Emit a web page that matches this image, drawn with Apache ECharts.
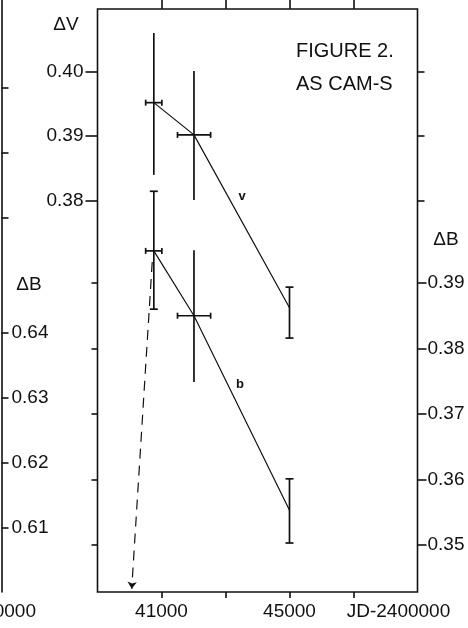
<!DOCTYPE html>
<html><head><meta charset="utf-8">
<script src="https://cdn.jsdelivr.net/npm/echarts@6/dist/echarts.min.js"></script>
<style>html,body{margin:0;padding:0;background:#fff}#c{width:468px;height:628px}</style>
</head><body><div id="c"></div>
<script>
// ---- data ----
const jd = [40760, 42015, 45000];
const jdLo = [40505, 41500, null];
const jdHi = [41011, 42535, null];
const dV = [0.3952, 0.3902, 0.3634];
const dVLo = [0.3840, 0.3801, 0.3587];
const dVHi = [0.4060, 0.4001, 0.3666];
const dB = [0.3949, 0.3850, 0.3553];
const dBLo = [0.3860, 0.3749, 0.3503];
const dBHi = [0.4040, 0.3950, 0.3601];
const arrowJD = [40710, 40069];
const arrowB = [0.3932, 0.3433];
// ---- ticks / labels ----
const xTicks = [41000, 43000, 45000, 47000];
const xLabelValues = [41000, 45000, 47000];
const xLabelTexts = ['41000', '45000', 'JD-2400000'];
const dVTicks = [0.38, 0.39, 0.40];
const dBTicks = [0.35, 0.36, 0.37, 0.38, 0.39];
const leftBTicks = [0.61, 0.62, 0.63, 0.64];
const leftVTicks = [0.38, 0.39, 0.40];
const titleLines = ['FIGURE 2.', 'AS CAM-S'];
const curveNames = ['v', 'b'];

const INK = '#111';
const FONT = "'Liberation Sans', Arial, sans-serif";
const vCapped = [false, false, true];
const bCapped = [true, false, true];

function errRender(yVals, yLo, yHi, capped) {
  return function (params, api) {
    const i = params.dataIndex;
    const st = { stroke: INK, lineWidth: 1.7 };
    const ch = [];
    const top = api.coord([jd[i], yHi[i]]);
    const bot = api.coord([jd[i], yLo[i]]);
    ch.push({ type: 'line', shape: { x1: top[0], y1: top[1], x2: bot[0], y2: bot[1] }, style: st });
    if (capped[i]) {
      [top, bot].forEach(p => ch.push({ type: 'line', shape: { x1: p[0] - 4, y1: p[1], x2: p[0] + 4, y2: p[1] }, style: st }));
    }
    if (jdLo[i] != null) {
      const l = api.coord([jdLo[i], yVals[i]]);
      const r = api.coord([jdHi[i], yVals[i]]);
      ch.push({ type: 'line', shape: { x1: l[0], y1: l[1], x2: r[0], y2: r[1] }, style: st });
      [l, r].forEach(p => ch.push({ type: 'line', shape: { x1: p[0], y1: p[1] - 3, x2: p[0], y2: p[1] + 3 }, style: st }));
    }
    return { type: 'group', children: ch };
  };
}

const lbl = { color: INK, fontFamily: FONT, fontSize: 19 };
const fmt2 = v => v.toFixed(2);
const tickStyle = { color: INK, width: 1.6 };

const chart = echarts.init(document.getElementById('c'), null, { renderer: 'canvas' });
chart.setOption({
  backgroundColor: '#fff',
  animation: false,
  grid: [
    { left: 97.5, top: 9, width: 320, height: 583, show: true, borderColor: INK, borderWidth: 1.6, backgroundColor: 'transparent', containLabel: false, outerBoundsMode: 'none' },
    { left: -200, top: -10, width: 201.5, height: 602, show: false, containLabel: false, outerBoundsMode: 'none' }
  ],
  title: {
    text: titleLines.join('\n'), left: 291, top: 30,
    textStyle: { color: INK, fontFamily: FONT, fontSize: 20, fontWeight: 'normal', lineHeight: 33 }
  },
  xAxis: [
    { gridIndex: 0, type: 'value', position: 'bottom', min: 39000, max: 49000,
      axisLine: { show: false, onZero: false }, splitLine: { show: false },
      axisTick: { show: true, length: 6, customValues: xTicks, lineStyle: tickStyle },
      axisLabel: { show: true, margin: 10, customValues: xLabelValues, ...lbl,
        formatter: v => { const k = xLabelValues.indexOf(v); const t = k >= 0 ? xLabelTexts[k] : '';
          return k === 2 ? '{jd|' + t + '}' : t; },
        rich: { jd: { ...lbl, padding: [0, 0, 0, 90] } } } },
    { gridIndex: 0, type: 'value', position: 'top', min: 39000, max: 49000,
      axisLine: { show: false, onZero: false }, splitLine: { show: false },
      axisTick: { show: true, length: 9, customValues: xTicks, lineStyle: tickStyle },
      axisLabel: { show: false } },
    { gridIndex: 1, type: 'value', min: 1, max: 2, show: false, axisLine: { onZero: false } }
  ],
  yAxis: [
    { gridIndex: 0, type: 'value', position: 'left', min: 0.31933, max: 0.40972,
      axisLine: { show: false, onZero: false }, splitLine: { show: false },
      axisTick: { show: true, length: 12, customValues: dVTicks, lineStyle: tickStyle },
      axisLabel: { show: true, margin: 14, customValues: dVTicks, formatter: fmt2, ...lbl } },
    { gridIndex: 0, type: 'value', position: 'left', min: 0.34282, max: 0.43183,
      axisLine: { show: false, onZero: false }, splitLine: { show: false },
      axisTick: { show: true, length: 6, customValues: dBTicks, lineStyle: tickStyle },
      axisLabel: { show: false } },
    { gridIndex: 0, type: 'value', position: 'right', min: 0.31933, max: 0.40972,
      axisLine: { show: false, onZero: false }, splitLine: { show: false },
      axisTick: { show: true, length: 7, customValues: dVTicks, lineStyle: tickStyle },
      axisLabel: { show: false } },
    { gridIndex: 0, type: 'value', position: 'right', min: 0.34282, max: 0.43183,
      axisLine: { show: false, onZero: false }, splitLine: { show: false },
      axisTick: { show: true, length: 9, customValues: dBTicks, lineStyle: tickStyle },
      axisLabel: { show: true, margin: 10, customValues: dBTicks, formatter: fmt2, ...lbl } },
    { gridIndex: 1, type: 'value', position: 'right', min: 0.60015, max: 0.69277,
      axisLine: { show: true, onZero: false, lineStyle: { color: INK, width: 1.6 } }, splitLine: { show: false },
      axisTick: { show: true, length: 7, customValues: leftBTicks, lineStyle: tickStyle },
      axisLabel: { show: true, margin: 10, customValues: leftBTicks, formatter: fmt2, ...lbl } },
    { gridIndex: 1, type: 'value', position: 'right', min: 0.32246, max: 0.41508,
      axisLine: { show: false, onZero: false }, splitLine: { show: false },
      axisTick: { show: true, length: 7, customValues: leftVTicks, lineStyle: tickStyle },
      axisLabel: { show: false } }
  ],
  series: [
    { type: 'line', xAxisIndex: 0, yAxisIndex: 0, data: jd.map((x, i) => [x, dV[i]]),
      symbol: 'none', lineStyle: { color: INK, width: 1.2 } },
    { type: 'line', xAxisIndex: 0, yAxisIndex: 3, data: jd.map((x, i) => [x, dB[i]]),
      symbol: 'none', lineStyle: { color: INK, width: 1.2 } },
    { type: 'custom', xAxisIndex: 0, yAxisIndex: 0, data: jd.map((x, i) => [x, dV[i]]),
      encode: { x: 0, y: 1 }, renderItem: errRender(dV, dVLo, dVHi, vCapped) },
    { type: 'custom', xAxisIndex: 0, yAxisIndex: 3, data: jd.map((x, i) => [x, dB[i]]),
      encode: { x: 0, y: 1 }, renderItem: errRender(dB, dBLo, dBHi, bCapped) },
    { type: 'lines', coordinateSystem: 'cartesian2d', xAxisIndex: 0, yAxisIndex: 3,
      symbol: ['none', 'arrow'], symbolSize: 7,
      lineStyle: { color: INK, width: 1.2, type: [10, 7], opacity: 1 },
      data: [{ coords: arrowJD.map((x, i) => [x, arrowB[i]]) }] }
  ],
  graphic: [
    { type: 'text', x: 66, y: 25, style: { text: 'ΔV', fill: INK, font: "19px 'Liberation Sans'", align: 'center', verticalAlign: 'middle' } },
    { type: 'text', x: 29, y: 285, style: { text: 'ΔB', fill: INK, font: "19px 'Liberation Sans'", align: 'center', verticalAlign: 'middle' } },
    { type: 'text', x: 446, y: 240, style: { text: 'ΔB', fill: INK, font: "19px 'Liberation Sans'", align: 'center', verticalAlign: 'middle' } },
    { type: 'text', x: 242, y: 196, style: { text: curveNames[0], fill: INK, font: "bold 13px 'Liberation Sans'", align: 'center', verticalAlign: 'middle' } },
    { type: 'text', x: 240, y: 384, style: { text: curveNames[1], fill: INK, font: "bold 13px 'Liberation Sans'", align: 'center', verticalAlign: 'middle' } },
    { type: 'text', x: 36, y: 612, style: { text: 'JD-2400000', fill: INK, font: "19px 'Liberation Sans'", align: 'right', verticalAlign: 'middle' } }
  ]
});
</script>
</body></html>
